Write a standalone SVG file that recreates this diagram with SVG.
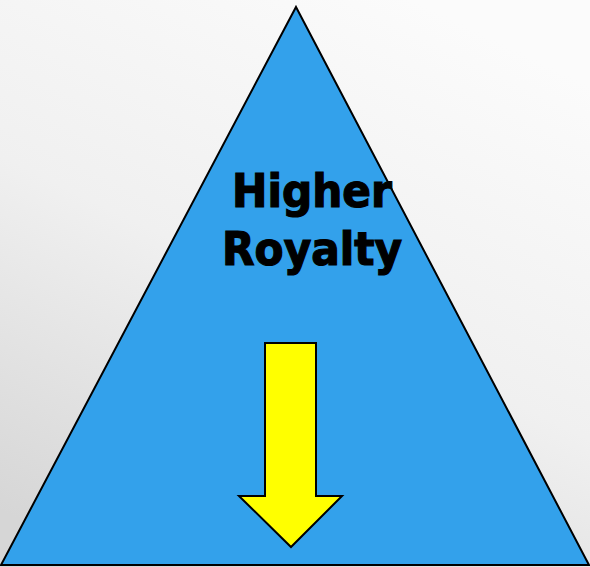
<svg xmlns="http://www.w3.org/2000/svg" width="590" height="567" viewBox="0 0 590 567">
  <defs>
    <linearGradient id="bg" x1="0.7" y1="0" x2="0.2" y2="1">
      <stop offset="0" stop-color="#fbfbfb"/>
      <stop offset="0.5" stop-color="#f0f0f0"/>
      <stop offset="1" stop-color="#d6d6d6"/>
    </linearGradient>
    <style>
      .tri { fill: #33a1eb; stroke: #000; stroke-width: 2; stroke-linejoin: miter; }
      .arrow { fill: #ffff00; stroke: #000; stroke-width: 2; }
      .label { font-family: "DejaVu Sans Condensed", "DejaVu Sans", Verdana, sans-serif; font-weight: bold; font-size: 47px; fill: #000; stroke: #000; stroke-width: 1.2; text-anchor: middle; }
    </style>
  </defs>
  <rect x="0" y="0" width="590" height="567" fill="url(#bg)"/>
  <g id="triangle">
    <polygon class="tri" points="296,7 589,565 1,565"/>
  </g>
  <g id="label">
    <text class="label" x="312" y="207">Higher</text>
    <text class="label" x="312" y="265">Royalty</text>
  </g>
  <g id="arrow">
    <polygon class="arrow" points="265,343 316,343 316,496 342,496 291,547 239,496 265,496"/>
  </g>
  <g id="connectors"></g>
</svg>
